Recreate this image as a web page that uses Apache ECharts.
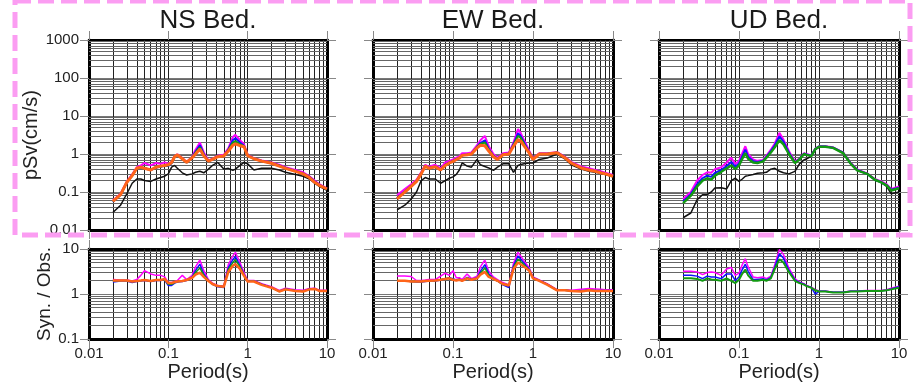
<!DOCTYPE html>
<html>
<head>
<meta charset="utf-8">
<script src="https://cdn.jsdelivr.net/npm/echarts@6/dist/echarts.min.js"></script>
<style>
  html, body { margin: 0; padding: 0; background: #fff; }
  #chart { width: 914px; height: 383px; }
</style>
</head>
<body>
<div id="chart"></div>
<script>
// 周期 (s)
const periods = [0.02, 0.025, 0.03, 0.035, 0.04, 0.045, 0.05, 0.06, 0.07, 0.08, 0.09, 0.1, 0.11, 0.12, 0.13, 0.15, 0.17, 0.2, 0.22, 0.25, 0.28, 0.32, 0.36, 0.42, 0.5, 0.57, 0.65, 0.7, 0.8, 0.9, 1.0, 1.2, 1.5, 2, 2.5, 3, 4, 5, 6, 7, 8, 10]

const titles = ['NS Bed.', 'EW Bed.', 'UD Bed.']
const xTicks = [0.01, 0.1, 1, 10]
const yTicksTop = [0.01, 0.1, 1, 10, 100, 1000]
const yTicksRatio = [0.1, 1, 10]

// pSv NS
const nsObs = [0.029, 0.045, 0.09, 0.17, 0.22, 0.22, 0.2, 0.19, 0.22, 0.24, 0.26, 0.3, 0.45, 0.5, 0.42, 0.32, 0.28, 0.3, 0.33, 0.35, 0.32, 0.4, 0.5, 0.6, 0.4, 0.42, 0.37, 0.4, 0.5, 0.6, 0.55, 0.38, 0.42, 0.42, 0.38, 0.33, 0.29, 0.26, 0.22, 0.17, 0.14, 0.11]
const nsMagenta = [0.06, 0.09, 0.19, 0.29, 0.45, 0.5, 0.58, 0.5, 0.58, 0.55, 0.6, 0.55, 0.62, 0.88, 0.98, 0.78, 0.62, 0.85, 1.3, 2.0, 1.1, 0.68, 0.75, 0.9, 0.95, 1.4, 2.8, 3.2, 2.3, 1.8, 0.95, 0.78, 0.68, 0.6, 0.52, 0.45, 0.38, 0.33, 0.26, 0.2, 0.16, 0.125]
const nsBlue = [0.055, 0.085, 0.18, 0.27, 0.42, 0.44, 0.43, 0.38, 0.44, 0.46, 0.49, 0.48, 0.58, 0.85, 0.95, 0.74, 0.6, 0.82, 1.15, 1.7, 1.0, 0.65, 0.72, 0.86, 0.9, 1.3, 2.3, 2.6, 2.0, 1.65, 0.92, 0.76, 0.66, 0.58, 0.5, 0.43, 0.36, 0.31, 0.25, 0.19, 0.155, 0.12]
const nsGreen = [0.056, 0.085, 0.18, 0.27, 0.42, 0.45, 0.42, 0.38, 0.45, 0.47, 0.5, 0.5, 0.59, 0.85, 0.95, 0.75, 0.6, 0.81, 1.08, 1.5, 0.95, 0.65, 0.72, 0.85, 0.89, 1.25, 2.0, 2.2, 1.8, 1.6, 0.91, 0.75, 0.65, 0.57, 0.49, 0.42, 0.35, 0.3, 0.24, 0.18, 0.15, 0.12]
const nsOrange = [0.057, 0.085, 0.18, 0.27, 0.42, 0.45, 0.42, 0.38, 0.45, 0.48, 0.5, 0.52, 0.6, 0.85, 0.95, 0.75, 0.6, 0.8, 1.0, 1.35, 0.9, 0.65, 0.72, 0.85, 0.88, 1.2, 1.7, 1.85, 1.65, 1.55, 0.9, 0.75, 0.65, 0.57, 0.48, 0.42, 0.35, 0.3, 0.24, 0.18, 0.15, 0.12]

// pSv EW
const ewObs = [0.034, 0.045, 0.065, 0.1, 0.2, 0.24, 0.22, 0.22, 0.17, 0.2, 0.23, 0.25, 0.29, 0.38, 0.58, 0.48, 0.45, 0.72, 0.52, 0.47, 0.43, 0.37, 0.45, 0.55, 0.55, 0.33, 0.5, 0.53, 0.56, 0.58, 0.58, 0.72, 0.78, 1.0, 0.75, 0.52, 0.4, 0.35, 0.33, 0.31, 0.29, 0.25]
const ewMagenta = [0.082, 0.12, 0.16, 0.21, 0.33, 0.52, 0.46, 0.52, 0.42, 0.6, 0.66, 0.72, 0.8, 0.86, 1.05, 1.05, 1.1, 1.7, 2.3, 3.0, 1.6, 1.0, 0.8, 1.05, 1.1, 2.0, 4.5, 3.6, 2.0, 1.2, 0.78, 1.05, 1.05, 1.12, 0.85, 0.62, 0.47, 0.42, 0.38, 0.35, 0.32, 0.28]
const ewBlue = [0.07, 0.105, 0.145, 0.195, 0.31, 0.49, 0.43, 0.47, 0.39, 0.52, 0.6, 0.66, 0.74, 0.8, 0.94, 0.97, 1.02, 1.55, 1.95, 2.3, 1.35, 0.9, 0.75, 0.98, 1.03, 1.8, 3.5, 3.0, 1.75, 1.1, 0.74, 1.02, 1.02, 1.1, 0.82, 0.59, 0.44, 0.39, 0.36, 0.33, 0.3, 0.265]
const ewGreen = [0.068, 0.1, 0.14, 0.19, 0.3, 0.48, 0.42, 0.46, 0.38, 0.5, 0.58, 0.64, 0.72, 0.78, 0.92, 0.95, 1.0, 1.5, 1.85, 2.0, 1.3, 0.88, 0.73, 0.96, 1.01, 1.7, 3.0, 2.7, 1.6, 1.08, 0.73, 1.0, 1.0, 1.08, 0.8, 0.58, 0.43, 0.38, 0.35, 0.32, 0.3, 0.26]
const ewOrange = [0.066, 0.1, 0.14, 0.19, 0.3, 0.48, 0.42, 0.46, 0.38, 0.5, 0.58, 0.64, 0.72, 0.78, 0.92, 0.95, 1.0, 1.45, 1.7, 1.65, 1.2, 0.85, 0.72, 0.95, 1.0, 1.6, 2.4, 2.2, 1.5, 1.05, 0.72, 1.0, 1.0, 1.08, 0.8, 0.58, 0.43, 0.38, 0.35, 0.32, 0.3, 0.26]

// pSv UD
const udObs = [0.021, 0.028, 0.063, 0.085, 0.085, 0.1, 0.127, 0.13, 0.12, 0.2, 0.23, 0.19, 0.22, 0.26, 0.27, 0.29, 0.31, 0.32, 0.33, 0.4, 0.42, 0.35, 0.32, 0.3, 0.35, 0.55, 0.7, 0.75, 0.87, 1.3, 1.5, 1.55, 1.45, 1.06, 0.55, 0.37, 0.3, 0.21, 0.18, 0.14, 0.09, 0.1]
const udMagenta = [0.065, 0.1, 0.2, 0.28, 0.33, 0.32, 0.4, 0.45, 0.6, 0.8, 0.55, 0.65, 1.05, 1.6, 1.0, 0.72, 0.66, 0.7, 0.9, 1.3, 1.9, 3.6, 2.4, 1.2, 0.64, 0.76, 1.05, 1.0, 0.92, 1.4, 1.6, 1.6, 1.5, 1.1, 0.58, 0.39, 0.31, 0.22, 0.19, 0.16, 0.12, 0.14]
const udBlue = [0.056, 0.088, 0.16, 0.23, 0.27, 0.25, 0.32, 0.38, 0.48, 0.62, 0.46, 0.56, 0.88, 1.3, 0.85, 0.65, 0.62, 0.67, 0.84, 1.2, 1.7, 2.9, 2.1, 1.1, 0.6, 0.74, 1.02, 0.97, 0.9, 1.37, 1.57, 1.57, 1.47, 1.08, 0.56, 0.38, 0.3, 0.21, 0.18, 0.15, 0.115, 0.13]
const udGreen = [0.051, 0.08, 0.14, 0.2, 0.23, 0.21, 0.27, 0.34, 0.42, 0.5, 0.4, 0.5, 0.75, 1.05, 0.75, 0.6, 0.58, 0.64, 0.8, 1.1, 1.5, 2.3, 1.8, 1.0, 0.58, 0.72, 1.0, 0.95, 0.88, 1.35, 1.55, 1.55, 1.45, 1.06, 0.55, 0.37, 0.3, 0.21, 0.18, 0.15, 0.11, 0.125]

// Syn. / Obs. NS
const nsRatMagenta = [2.1, 2.05, 2.05, 1.95, 2.1, 2.6, 3.3, 2.8, 2.6, 2.6, 2.4, 1.8, 1.8, 1.9, 2.0, 2.6, 2.1, 2.6, 4.0, 5.7, 3.3, 2.1, 1.75, 1.55, 1.5, 4.5, 7.0, 8.4, 5.0, 3.0, 2.0, 2.0, 1.7, 1.45, 1.2, 1.35, 1.25, 1.22, 1.33, 1.35, 1.22, 1.22]
const nsRatBlue = [1.85, 1.95, 1.95, 1.8, 1.9, 1.95, 2.0, 1.9, 2.0, 2.0, 2.05, 1.55, 1.55, 1.75, 1.85, 1.9, 2.0, 2.4, 3.3, 4.6, 2.8, 2.0, 1.65, 1.45, 1.4, 3.8, 5.8, 6.8, 4.3, 2.7, 1.95, 1.95, 1.65, 1.4, 1.15, 1.3, 1.2, 1.15, 1.3, 1.32, 1.18, 1.18]
const nsRatGreen = [1.95, 2.0, 2.0, 1.9, 1.95, 2.0, 2.05, 1.95, 2.05, 2.05, 2.1, 1.65, 1.65, 1.8, 1.9, 1.95, 2.05, 2.35, 3.0, 3.8, 2.6, 2.0, 1.67, 1.5, 1.45, 3.5, 5.0, 5.8, 4.0, 2.6, 1.92, 1.92, 1.62, 1.39, 1.14, 1.28, 1.18, 1.14, 1.28, 1.3, 1.17, 1.17]
const nsRatOrange = [2.0, 2.0, 2.0, 1.9, 1.95, 2.0, 2.05, 1.95, 2.05, 2.05, 2.15, 1.75, 1.75, 1.85, 1.9, 1.95, 2.05, 2.3, 2.7, 3.0, 2.4, 1.95, 1.67, 1.5, 1.45, 3.1, 4.25, 4.6, 3.6, 2.55, 1.9, 1.9, 1.6, 1.38, 1.14, 1.27, 1.17, 1.14, 1.27, 1.3, 1.17, 1.17]

// Syn. / Obs. EW
const ewRatMagenta = [2.5, 2.5, 2.45, 2.0, 2.0, 2.05, 2.1, 2.1, 2.5, 2.9, 2.6, 3.3, 2.3, 2.3, 2.1, 2.8, 2.2, 2.5, 4.0, 5.7, 3.2, 2.4, 2.1, 1.8, 1.6, 4.8, 8.4, 7.0, 5.0, 3.8, 2.4, 2.05, 1.7, 1.25, 1.25, 1.22, 1.28, 1.32, 1.3, 1.28, 1.25, 1.25]
const ewRatBlue = [1.97, 1.97, 1.9, 1.85, 1.85, 1.9, 1.95, 1.95, 2.05, 2.2, 2.3, 2.2, 2.05, 2.15, 1.95, 2.35, 2.1, 2.3, 3.2, 4.5, 2.8, 2.2, 1.95, 1.6, 1.4, 4.2, 7.0, 6.0, 4.5, 3.5, 2.3, 2.0, 1.65, 1.22, 1.22, 1.18, 1.18, 1.25, 1.2, 1.2, 1.2, 1.2]
const ewRatGreen = [1.97, 1.97, 1.9, 1.9, 1.9, 1.95, 1.97, 2.0, 2.07, 2.2, 2.25, 2.1, 2.02, 2.1, 1.97, 2.28, 2.08, 2.26, 2.9, 3.8, 2.6, 2.2, 1.97, 1.65, 1.6, 3.9, 6.0, 5.3, 4.2, 3.4, 2.25, 1.98, 1.63, 1.21, 1.21, 1.17, 1.15, 1.22, 1.18, 1.18, 1.18, 1.18]
const ewRatOrange = [1.97, 1.97, 1.9, 1.9, 1.9, 1.95, 1.97, 2.0, 2.07, 2.17, 2.23, 2.07, 2.0, 2.07, 1.97, 2.23, 2.07, 2.23, 2.7, 3.1, 2.4, 2.17, 1.97, 1.67, 1.55, 3.6, 5.0, 4.6, 3.9, 3.3, 2.23, 1.97, 1.62, 1.21, 1.21, 1.17, 1.14, 1.21, 1.17, 1.17, 1.17, 1.17]

// Syn. / Obs. UD
const udRatMagenta = [3.2, 3.2, 3.1, 2.7, 3.0, 3.1, 3.0, 2.6, 3.6, 3.9, 2.6, 2.9, 4.5, 6.1, 4.0, 2.4, 2.3, 2.4, 2.2, 2.5, 4.5, 9.8, 7.5, 3.8, 2.2, 1.85, 1.7, 1.55, 1.42, 1.25, 1.17, 1.17, 1.1, 1.1, 1.17, 1.17, 1.2, 1.2, 1.2, 1.25, 1.35, 1.5]
const udRatBlue = [2.6, 2.6, 2.5, 2.2, 2.5, 2.4, 2.4, 2.2, 2.8, 2.8, 2.0, 2.4, 3.5, 4.6, 3.2, 2.1, 2.1, 2.2, 2.05, 2.35, 4.0, 7.8, 6.2, 3.4, 2.05, 1.8, 1.65, 1.52, 1.4, 1.0, 1.15, 1.15, 1.09, 1.09, 1.15, 1.15, 1.18, 1.18, 1.18, 1.22, 1.3, 1.45]
const udRatGreen = [2.23, 2.23, 2.17, 1.97, 2.23, 2.1, 2.07, 1.97, 2.23, 1.97, 1.75, 2.07, 2.85, 3.5, 2.6, 1.97, 1.97, 2.07, 1.97, 2.23, 3.6, 5.9, 5.0, 3.1, 1.97, 1.75, 1.62, 1.5, 1.38, 1.21, 1.14, 1.14, 1.08, 1.08, 1.14, 1.14, 1.17, 1.17, 1.17, 1.21, 1.27, 1.38]

const COLORS = { obs: '#111111', magenta: '#ff00ff', blue: '#1010ff', green: '#129a12', orange: '#ff6419' }
const FONT = 'Liberation Sans'

// 每个面板的位置
const cols = [{ left: 89, width: 238 }, { left: 373, width: 240 }, { left: 659, width: 240 }]
const rows = [{ top: 40, height: 190 }, { top: 249, height: 95 }]

const chart = echarts.init(document.getElementById('chart'), null, { renderer: 'canvas' })

function pts(vals) {
  return periods.map(function(p, i) { return [p, vals[i]] })
}

function fmt(v) {
  return String(parseFloat(Number(v).toPrecision(6)))
}

const grid = []
const xAxis = []
const yAxis = []
const series = []

// 次网格线 2..9
function minors(decades) {
  const out = []
  decades.forEach(function(d) {
    for (let k = 2; k <= 9; k++) out.push(parseFloat((k * d).toPrecision(6)))
  })
  return out
}
const xMinor = minors([0.01, 0.1, 1])
const yMinorTop = minors([0.01, 0.1, 1, 10, 100])
const yMinorRatio = minors([0.1, 1])

function axisBase(ticks) {
  return {
    type: 'log',
    logBase: 10,
    min: ticks[0],
    max: ticks[ticks.length - 1],
    axisLine: { show: true, onZero: false, lineStyle: { color: '#000', width: 3 }},
    axisTick: { show: true, inside: false, length: 9, lineStyle: { color: '#888', width: 1 }},
    minorTick: { show: false }
  }
}

for (let r = 0; r < 2; r++) {
  for (let c = 0; c < 3; c++) {
    const gi = r * 3 + c
    const yTicks = r === 0 ? yTicksTop : yTicksRatio
    grid.push({ left: cols[c].left, width: cols[c].width, top: rows[r].top, height: rows[r].height, containLabel: false })
    // 下 x 轴
    xAxis.push(Object.assign(axisBase(xTicks), {
      gridIndex: gi,
      position: 'bottom',
      axisLabel: { show: r === 1, margin: 7, color: '#222', fontFamily: FONT, fontSize: 15, formatter: fmt },
      splitLine: { show: true, lineStyle: { color: '#222', width: 1 }},
      name: r === 1 ? 'Period(s)' : '',
      nameLocation: 'middle',
      nameGap: 18,
      nameTextStyle: { color: '#222', fontFamily: FONT, fontSize: 20 }
    }))
    // 上 x 轴（仅刻度）
    xAxis.push(Object.assign(axisBase(xTicks), {
      gridIndex: gi,
      position: 'top',
      axisLabel: { show: false },
      splitLine: { show: false }
    }))
    // 左 y 轴
    yAxis.push(Object.assign(axisBase(yTicks), {
      gridIndex: gi,
      position: 'left',
      axisLabel: { show: c === 0, margin: 10, color: '#222', fontFamily: FONT, fontSize: 15, formatter: fmt },
      splitLine: { show: true, lineStyle: { color: '#777', width: 1 }},
      name: c === 0 ? (r === 0 ? 'pSv(cm/s)' : 'Syn. / Obs.') : '',
      nameLocation: 'middle',
      nameGap: r === 0 ? 38 : 29,
      nameTextStyle: { color: '#222', fontFamily: FONT, fontSize: r === 0 ? 20 : 19 }
    }))
    // 右 y 轴（仅刻度）
    yAxis.push(Object.assign(axisBase(yTicks), {
      gridIndex: gi,
      position: 'right',
      axisLabel: { show: false },
      splitLine: { show: false }
    }))

    // 网格线
    const lines = []
    xMinor.forEach(function(v) { lines.push({ xAxis: v, lineStyle: { color: '#222', width: 1, type: 'solid' }}) })
    const ym = r === 0 ? yMinorTop : yMinorRatio
    ym.forEach(function(v) { lines.push({ yAxis: v, lineStyle: { color: '#666', width: 1, type: 'solid' }}) })
    series.push({
      type: 'line',
      xAxisIndex: gi * 2,
      yAxisIndex: gi * 2,
      data: [],
      silent: true,
      z: 1,
      markLine: { silent: true, symbol: ['none', 'none'], label: { show: false }, animation: false, data: lines }
    })
  }
}

function curve(gi, vals, color, width) {
  series.push({
    type: 'line',
    xAxisIndex: gi * 2,
    yAxisIndex: gi * 2,
    data: pts(vals),
    symbol: 'none',
    showSymbol: false,
    z: 5,
    lineStyle: { color: color, width: width },
    animation: false
  })
}

// 上段 pSv
curve(0, nsObs, COLORS.obs, 1.5)
curve(0, nsMagenta, COLORS.magenta, 2)
curve(0, nsBlue, COLORS.blue, 2)
curve(0, nsGreen, COLORS.green, 2)
curve(0, nsOrange, COLORS.orange, 3)

curve(1, ewObs, COLORS.obs, 1.5)
curve(1, ewMagenta, COLORS.magenta, 2)
curve(1, ewBlue, COLORS.blue, 2)
curve(1, ewGreen, COLORS.green, 2)
curve(1, ewOrange, COLORS.orange, 3)

curve(2, udObs, COLORS.obs, 1.5)
curve(2, udMagenta, COLORS.magenta, 2)
curve(2, udBlue, COLORS.blue, 2)
curve(2, udGreen, COLORS.green, 2.5)

// 下段 Syn./Obs.
curve(3, nsRatMagenta, COLORS.magenta, 1.5)
curve(3, nsRatBlue, COLORS.blue, 1.5)
curve(3, nsRatGreen, COLORS.green, 1.5)
curve(3, nsRatOrange, COLORS.orange, 2.5)

curve(4, ewRatMagenta, COLORS.magenta, 1.5)
curve(4, ewRatBlue, COLORS.blue, 1.5)
curve(4, ewRatGreen, COLORS.green, 1.5)
curve(4, ewRatOrange, COLORS.orange, 2.5)

curve(5, udRatMagenta, COLORS.magenta, 1.5)
curve(5, udRatBlue, COLORS.blue, 1.5)
curve(5, udRatGreen, COLORS.green, 2)

const graphic = titles.map(function(t, c) {
  return {
    type: 'text',
    x: cols[c].left + cols[c].width / 2,
    y: 21,
    z: 50,
    style: { text: t, fill: '#1a1a1a', font: '26px "Liberation Sans"', align: 'center', verticalAlign: 'middle' }
  }
})
// 粉色虚线框
graphic.push({
  type: 'rect',
  z: 100,
  shape: { x: 15, y: 1, width: 895, height: 234 },
  style: { fill: 'none', stroke: '#fb9df2', lineWidth: 5, lineDash: [16, 7] }
})

chart.setOption({
  animation: false,
  backgroundColor: '#fff',
  grid: grid,
  xAxis: xAxis,
  yAxis: yAxis,
  series: series,
  graphic: graphic
})
</script>
</body>
</html>
